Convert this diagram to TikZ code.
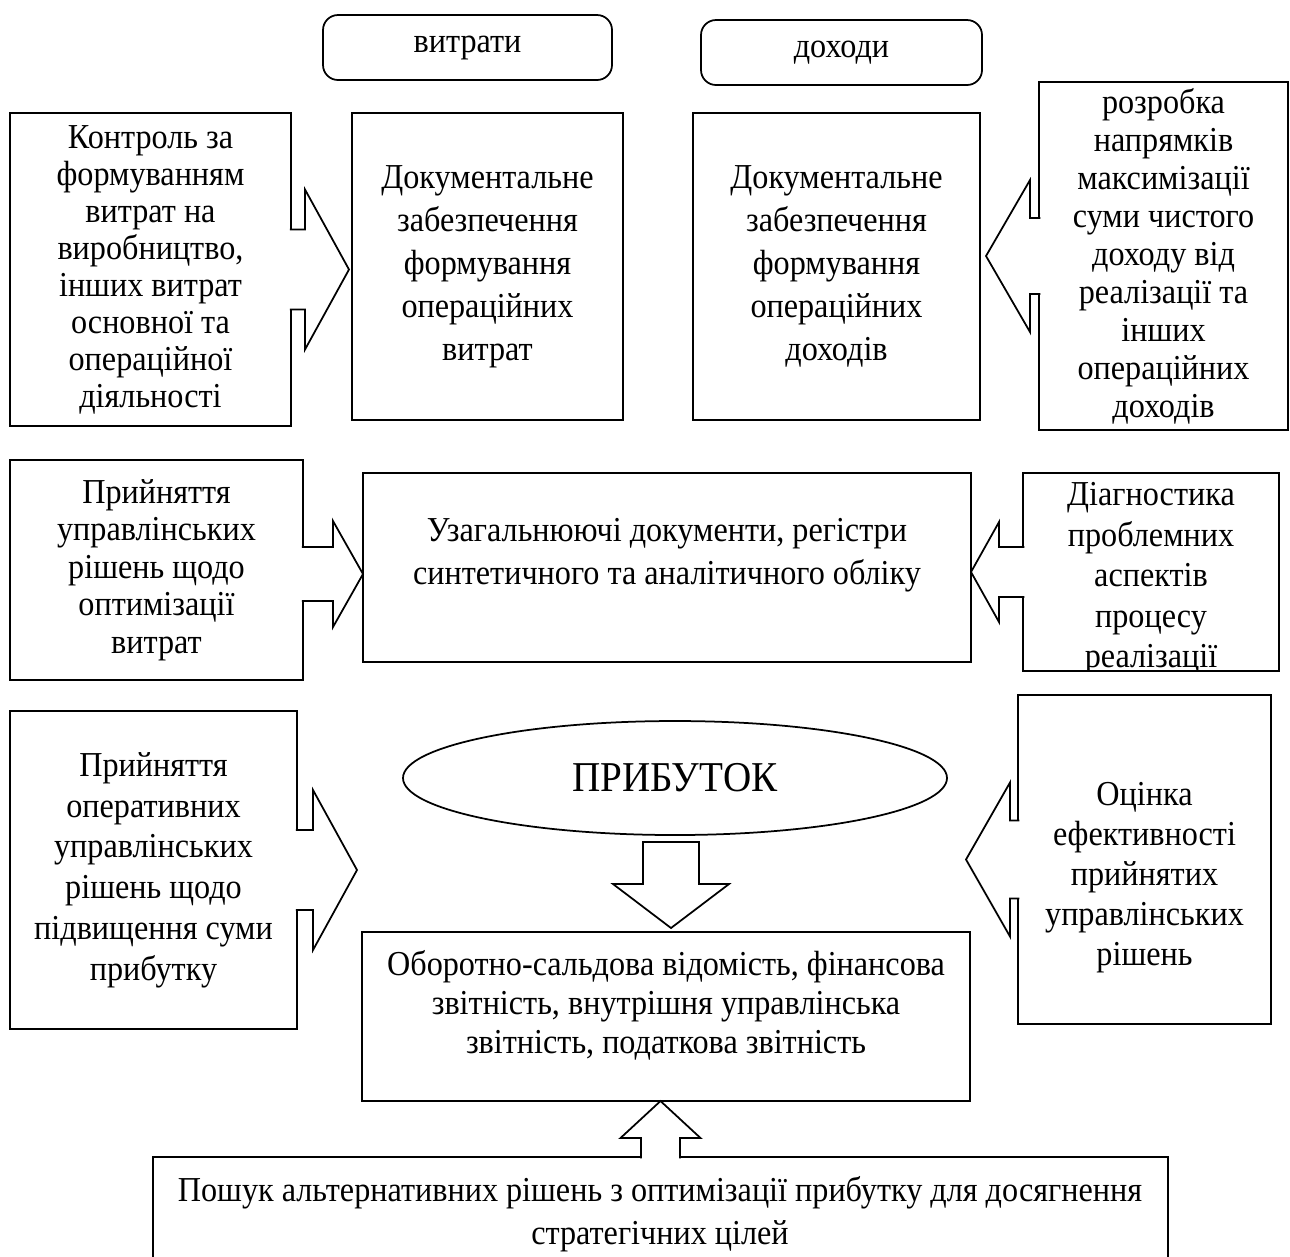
\documentclass[tikz,border=0pt]{standalone}
\usepackage{fontspec}
\setmainfont{Liberation Serif}[FakeStretch=0.92]
\usetikzlibrary{shapes.geometric,calc}
\newcommand\drbox[7][]{\node[box,minimum width={(#5-#3)*0.4pt},minimum height={(#6-#4)*0.4pt},#1] (#2) at ({(#3+#5)/2},{(#4+#6)/2}) {#7};}
% horizontal block arrow: tail, tip, half shaft, half head, head length, dir (1 right, -1 left)
\newcommand\harr[6]{\draw[ln,fill=white] let \p1=(#1),\p2=(#2) in
  ({\x1-(#6)*0.5pt},{\y1+#3*0.4pt}) -- ({\x2-(#6)*#5*0.4pt},{\y1+#3*0.4pt}) -- ({\x2-(#6)*#5*0.4pt},{\y1+#4*0.4pt}) -- (\x2,\y1) -- ({\x2-(#6)*#5*0.4pt},{\y1-#4*0.4pt}) -- ({\x2-(#6)*#5*0.4pt},{\y1-#3*0.4pt}) -- ({\x1-(#6)*0.5pt},{\y1-#3*0.4pt});}
% vertical block arrow: tail, tip, half shaft, half head, head length, dir (1 up, -1 down)
\newcommand\varr[6]{\draw[ln,fill=white] let \p1=(#1),\p2=(#2) in
  ({\x2-#3*0.4pt},{\y1-(#6)*0.5pt}) -- ({\x2-#3*0.4pt},{\y2-(#6)*#5*0.4pt}) -- ({\x2-#4*0.4pt},{\y2-(#6)*#5*0.4pt}) -- (\x2,\y2) -- ({\x2+#4*0.4pt},{\y2-(#6)*#5*0.4pt}) -- ({\x2+#3*0.4pt},{\y2-(#6)*#5*0.4pt}) -- ({\x2+#3*0.4pt},{\y1-(#6)*0.5pt});}
\begin{document}
\begin{tikzpicture}[x=0.4pt,y=-0.4pt,
  box/.style={draw, line width=0.7pt, inner sep=0pt, outer sep=0pt, align=center, font=\fontsize{14}{17.2}\selectfont},
  rbox/.style={box, rounded corners=6pt},
  txt/.style={inner sep=0pt, align=center, font=\fontsize{14}{17.2}\selectfont},
  ln/.style={line width=0.7pt, line join=miter}]
\useasboundingbox (0,0) rectangle (1290,1256);

% top labels
\drbox[rbox]{V}{323}{15}{612}{80}{витрати}
\drbox[rbox]{Dh}{701}{20}{982}{85}{доходи}

% row 1
\drbox[font=\fontsize{14}{14.8}\selectfont]{A}{10}{113}{291}{426}{Контроль за\\формуванням\\витрат на\\виробництво,\\інших витрат\\основної та\\операційної\\діяльності}
\drbox{B}{352}{113}{623}{420}{Документальне\\забезпечення\\формування\\операційних\\витрат}
\drbox{C}{693}{113}{980}{420}{Документальне\\забезпечення\\формування\\операційних\\доходів}
\drbox[font=\fontsize{14}{15.2}\selectfont]{D}{1039}{82}{1288}{430}{розробка\\напрямків\\максимізації\\суми чистого\\доходу від\\реалізації та\\інших\\операційних\\доходів}

% row 2
\drbox[font=\fontsize{14}{15}\selectfont]{E}{10}{460}{303}{680}{Прийняття\\управлінських\\рішень щодо\\оптимізації\\витрат}
\drbox{F}{363}{473}{971}{662}{}
\node[txt] (Ft) at ($(F.center)+(0,-12)$) {Узагальнюючі документи, регістри\\синтетичного та аналітичного обліку};
\drbox{G}{1023}{473}{1279}{671}{}
\begin{scope}
  \clip (G.north west) rectangle (G.south east);
  \node[txt, font=\fontsize{14}{16.2}\selectfont] (Gt) at ($(G.center)+(0,7)$) {Діагностика\\проблемних\\аспектів\\процесу\\реалізації};
\end{scope}

% row 3
\drbox[font=\fontsize{14}{16.3}\selectfont]{H}{10}{711}{297}{1029}{Прийняття\\оперативних\\управлінських\\рішень щодо\\підвищення суми\\прибутку}
\node[ellipse, draw, line width=0.7pt, inner sep=0pt, minimum width={544*0.4pt}, minimum height={114*0.4pt}, font=\fontsize{17}{20}\selectfont] (P) at (675,778) {ПРИБУТОК};
\drbox{J}{1018}{695}{1271}{1024}{}
\node[txt, font=\fontsize{14}{16}\selectfont] (Jt) at ($(J.center)+(0,18)$) {Оцінка\\ефективності\\прийнятих\\управлінських\\рішень};
\drbox{I}{362}{932}{970}{1101}{}
\node[txt, font=\fontsize{14}{15.6}\selectfont] (It) at ($(I.center)+(0,-11)$) {Оборотно-сальдова відомість, фінансова\\звітність, внутрішня управлінська\\звітність, податкова звітність};

% bottom
\drbox{K}{153}{1157}{1168}{1262}{}
\node[txt] (Kt) at (660,1214) {Пошук альтернативних рішень з оптимізації прибутку для досягнення\\стратегічних цілей};

% block arrows
\coordinate (hT) at (357,870);
\coordinate (jT) at (966,860);
\harr{A.east}{$(B.west)+(-3,0)$}{40}{80}{44}{1}
\harr{D.west}{$(C.east)+(6,0)$}{38}{76}{44}{-1}
\harr{$(E.east)+(0,4)$}{F.west}{27}{53}{30}{1}
\harr{G.west}{F.east}{25}{50}{28}{-1}
\harr{H.east}{hT}{40}{80}{44}{1}
\harr{J.west}{jT}{39}{77}{44}{-1}
% down arrow from ПРИБУТОК
\coordinate (pS) at ($(P.south)+(-4,6)$);
\draw[ln,fill=white] let \p1=(pS),\p2=($(I.north -| pS)+(0,-4)$) in
  ({\x2-28*0.4pt},\y1) -- ({\x2-28*0.4pt},{\y2+44*0.4pt}) -- ({\x2-58*0.4pt},{\y2+44*0.4pt}) -- (\x2,\y2) -- ({\x2+58*0.4pt},{\y2+44*0.4pt}) -- ({\x2+28*0.4pt},{\y2+44*0.4pt}) -- ({\x2+28*0.4pt},\y1) -- cycle;
% up arrow into summary box
\varr{K.north}{I.south -| K.north}{19.5}{40}{37}{1}
\end{tikzpicture}
\end{document}
